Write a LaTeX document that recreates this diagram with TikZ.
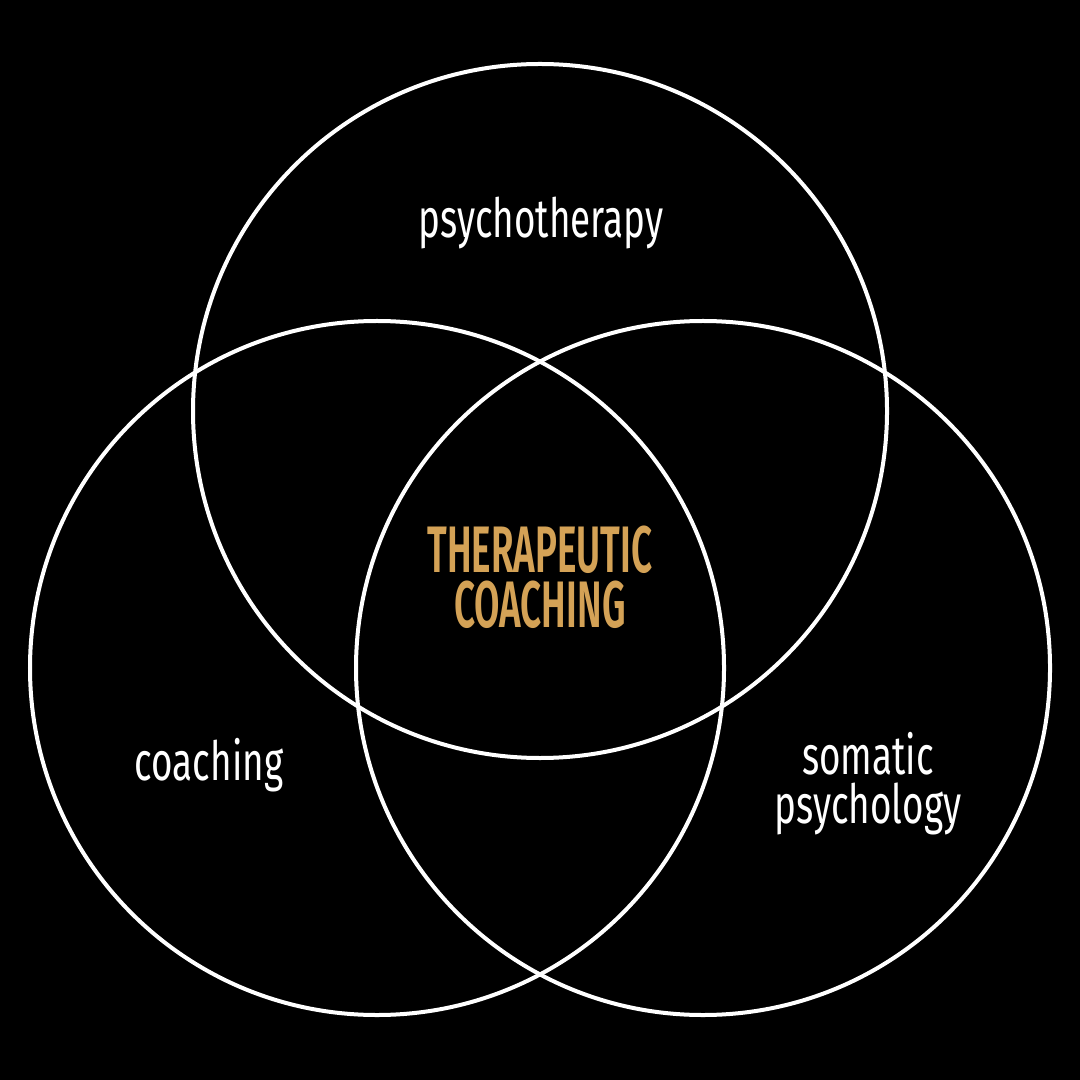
\documentclass[tikz,border=0pt]{standalone}
\usepackage{fontspec}
\usepackage{xcolor}
\newfontfamily\thinfont[FakeStretch=0.68]{Fira Sans}
\newfontfamily\heavyfont[FakeStretch=0.56]{Fira Sans SemiBold}
\definecolor{gold}{HTML}{D4A256}
\tikzset{
  ring/.style={white,line width=0.04cm},
  setlabel/.style={text=white,inner sep=0pt,align=center,anchor=base,
    font=\thinfont\fontsize{15.4}{13.7}\selectfont},
  corelabel/.style={text=gold,inner sep=0pt,align=center,anchor=base,
    font=\heavyfont\fontsize{18.7}{15.6}\selectfont}}
\begin{document}
\begin{tikzpicture}[x=0.01cm,y=-0.01cm,line join=round]
  \fill[black] (0,0) rectangle (1080,1080);
  \foreach \cx/\cy in {540/411,377/668,703/668}
    \draw[ring] (\cx,\cy) circle[radius=347];
  \node[setlabel] (psy) at (541,238) {psychotherapy};
  \node[setlabel] (coach) at (209,780) {coaching};
  \node[setlabel] (soma) at (868,823) {somatic\\psychology};
  \node[corelabel] (core) at (540,627) {THERAPEUTIC\\COACHING};
\end{tikzpicture}
\end{document}
